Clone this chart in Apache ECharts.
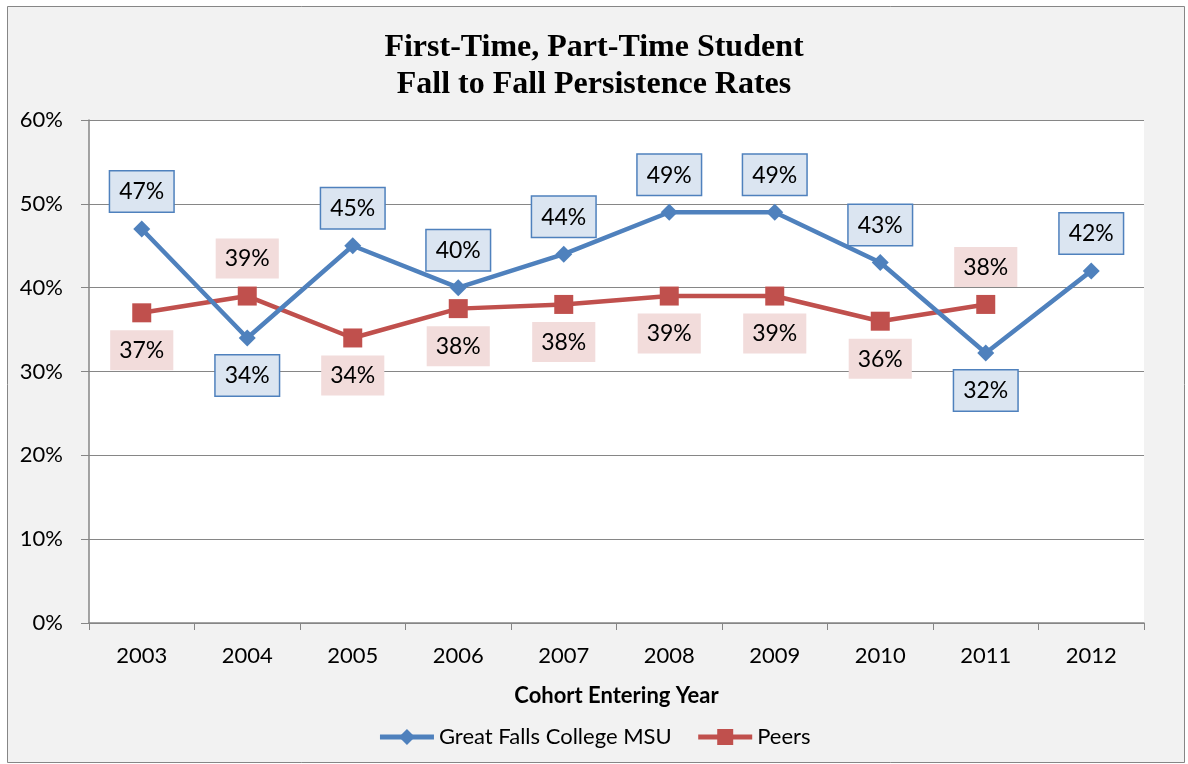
<!DOCTYPE html>
<html>
<head>
<meta charset="utf-8">
<script src="https://cdn.jsdelivr.net/npm/echarts@6/dist/echarts.min.js"></script>
<style>
  html, body { margin: 0; padding: 0; background: #fff; }
  #main { width: 1188px; height: 764px; }
</style>
</head>
<body>
<div id="main"></div>
<script>
// cohort years
const years = ['2003', '2004', '2005', '2006', '2007', '2008', '2009', '2010', '2011', '2012'];
// persistence rates, percent
const gfcRates = [47, 34, 45, 40, 44, 49, 49, 43, 32.2, 42];
const peerRates = [37, 39, 34, 37.5, 38, 39, 39, 36, 38, null];
const gfcLabels = ['47%', '34%', '45%', '40%', '44%', '49%', '49%', '43%', '32%', '42%'];
const peerLabels = ['37%', '39%', '34%', '38%', '38%', '39%', '39%', '36%', '38%', ''];
const yTicks = [0, 10, 20, 30, 40, 50, 60];

const BLUE = '#4f81bd';
const RED = '#c0504d';
const FONT = 'Lato, "Open Sans", sans-serif';

const chart = echarts.init(document.getElementById('main'));

// label goes on the side away from the other line
function gfcData() {
  return gfcRates.map(function (v, i) {
    const other = peerRates[i];
    const below = other != null && v < other;
    return {
      value: v,
      label: { position: below ? 'bottom' : 'top', formatter: gfcLabels[i] }
    };
  });
}

function peerData() {
  return peerRates.map(function (v, i) {
    const other = gfcRates[i];
    const above = other != null && v > other;
    return {
      value: v,
      label: { position: above ? 'top' : 'bottom', formatter: peerLabels[i] }
    };
  });
}

chart.setOption({
  animation: false,
  graphic: [{
    type: 'rect',
    z: -10,
    silent: true,
    shape: { x: 7.5, y: 6.5, width: 1177, height: 756 },
    style: { fill: '#f2f2f2', stroke: '#868686', lineWidth: 1 }
  }],
  title: {
    text: 'First-Time, Part-Time Student\nFall to Fall Persistence Rates',
    left: 'center',
    top: 24,
    textStyle: {
      fontFamily: '"Liberation Serif", "Times New Roman", serif',
      fontWeight: 'bold',
      fontSize: 32,
      lineHeight: 37,
      color: '#000'
    }
  },
  grid: {
    left: 89,
    right: 44,
    top: 120,
    bottom: 141,
    show: true,
    backgroundColor: '#fff',
    borderWidth: 0
  },
  legend: {
    bottom: 11,
    left: 'center',
    itemWidth: 54,
    itemHeight: 20,
    itemGap: 24,
    lineStyle: { width: 5 },
    textStyle: { fontFamily: FONT, fontSize: 22, color: '#000' },
    data: ['Great Falls College MSU', 'Peers']
  },
  xAxis: {
    type: 'category',
    data: years,
    boundaryGap: true,
    name: 'Cohort Entering Year',
    nameLocation: 'middle',
    nameGap: 62,
    nameTextStyle: { fontFamily: FONT, fontSize: 22, fontWeight: 'bold', color: '#000' },
    axisLine: { show: true, lineStyle: { color: '#868686', width: 1.5 } },
    axisTick: { show: true, length: 7, lineStyle: { color: '#868686' } },
    axisLabel: { fontFamily: FONT, fontSize: 22, color: '#000', margin: 22 }
  },
  yAxis: {
    type: 'value',
    min: 0,
    max: 60,
    interval: 10,
    axisLine: { show: true, lineStyle: { color: '#868686', width: 1.5 } },
    axisTick: { show: true, inside: false, length: 8, lineStyle: { color: '#868686' } },
    axisLabel: {
      fontFamily: FONT, fontSize: 22, color: '#000', margin: 26,
      formatter: function (v) { return yTicks.indexOf(v) >= 0 ? v + '%' : ''; }
    },
    splitLine: { show: true, lineStyle: { color: '#868686', width: 1.2 } }
  },
  series: [
    {
      name: 'Great Falls College MSU',
      type: 'line',
      data: gfcData(),
      symbol: 'diamond',
      symbolSize: 17,
      color: BLUE,
      lineStyle: { color: BLUE, width: 4.5 },
      itemStyle: { color: BLUE },
      z: 3,
      label: {
        show: true,
        distance: 9,
        fontFamily: FONT,
        fontSize: 23,
        color: '#000',
        backgroundColor: '#dbe5f1',
        borderColor: BLUE,
        borderWidth: 1.5,
        padding: [9, 9, 8, 9]
      }
    },
    {
      name: 'Peers',
      type: 'line',
      data: peerData(),
      symbol: 'rect',
      symbolSize: 19,
      color: RED,
      lineStyle: { color: RED, width: 4.5 },
      itemStyle: { color: RED },
      z: 2,
      label: {
        show: true,
        distance: 8,
        fontFamily: FONT,
        fontSize: 23,
        color: '#000',
        backgroundColor: '#f2dcdb',
        padding: [9, 9, 8, 9]
      }
    }
  ]
});
</script>
</body>
</html>
